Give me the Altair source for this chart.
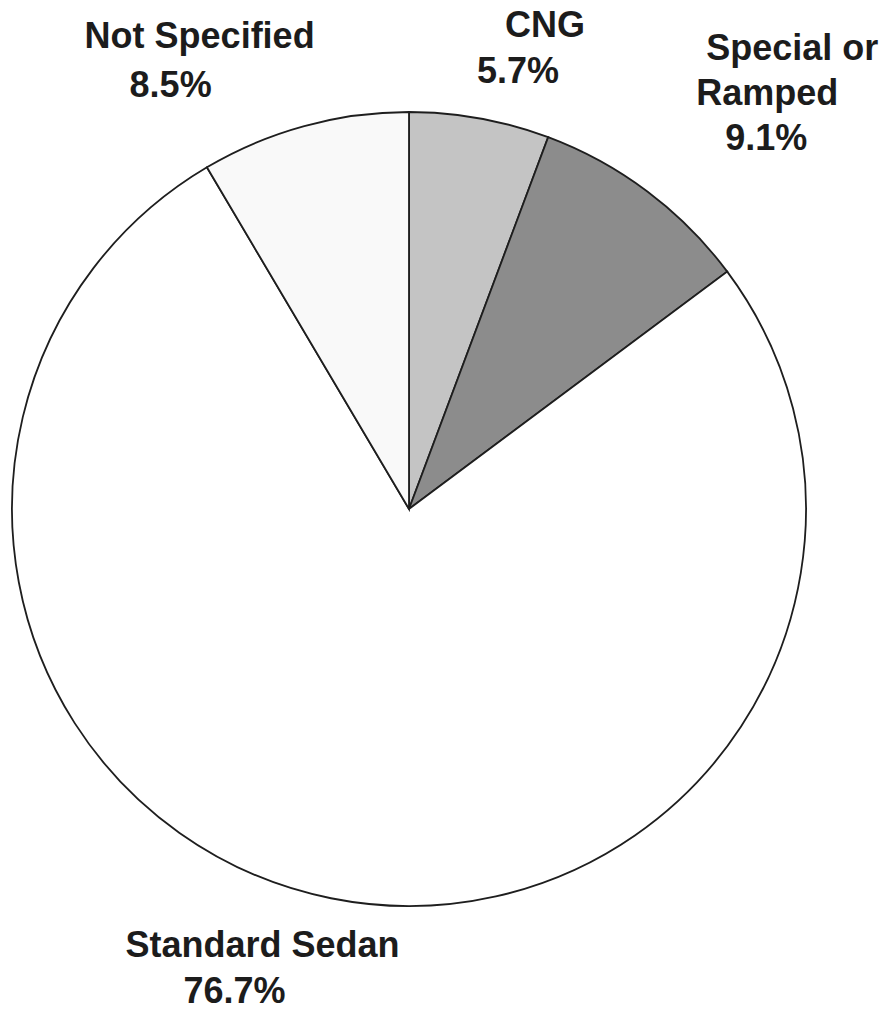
import altair as alt
import pandas as pd

# ---- data ----
categories = ["CNG", "Special or Ramped", "Standard Sedan", "Not Specified"]
shares = [5.7, 9.1, 76.7, 8.5]
name_lines = [["CNG"], ["Special or", "Ramped"], ["Standard Sedan"], ["Not Specified"]]

# ---- styles ----
fills = ["#c4c4c4", "#8c8c8c", "#ffffff", "#f9f9f9"]
PIE_R = 397
LABEL_R = 460
FONT = "Liberation Sans"
FONT_SIZE = 36
TEXT_COLOR = "#1c1c1c"
# (dx, dy) of each label line from the anchor on the slice's mid angle
line_offsets = {
    "CNG": [(54, -19), (27, 27)],
    "Special or Ramped": [(107, -81), (82, -36), (81, 9)],
    "Standard Sedan": [(-56, -3), (-84, 43)],
    "Not Specified": [(-88, -17), (-117, 32)],
}

df = pd.DataFrame({"category": categories, "share": shares, "order": list(range(len(categories)))})
base = alt.Chart(df)

pie = base.mark_arc(radius=PIE_R, stroke="#1e1e1e", strokeWidth=1.8).encode(
    theta=alt.Theta("share:Q", stack=True),
    order=alt.Order("order:Q"),
    color=alt.Color("category:N", scale=alt.Scale(domain=categories, range=fills), legend=None),
)

layers = [pie]
for cat, share, names in zip(categories, shares, name_lines):
    texts = names + [f"{share}%"]
    for txt, (dx, dy) in zip(texts, line_offsets[cat]):
        layer = (
            base.transform_window(cum="sum(share)", sort=[alt.SortField("order")])
            .transform_calculate(mid="datum.cum - datum.share / 2")
            .transform_filter(alt.datum.category == cat)
            .mark_text(
                radius=LABEL_R, dx=dx, dy=dy, align="center", baseline="alphabetic",
                font=FONT, fontSize=FONT_SIZE, fontWeight="bold", color=TEXT_COLOR,
            )
            .encode(theta=alt.Theta("mid:Q", stack=False), text=alt.value(txt))
        )
        layers.append(layer)

chart = (
    alt.layer(*layers)
    .properties(
        width=802, height=994,
        autosize=alt.AutoSizeParams(type="none"),
        padding={"left": 0, "top": 4, "right": 72, "bottom": 0},
    )
    .configure_view(stroke=None)
)

chart.save("out.html", embed_options={"renderer": "svg", "actions": False})
